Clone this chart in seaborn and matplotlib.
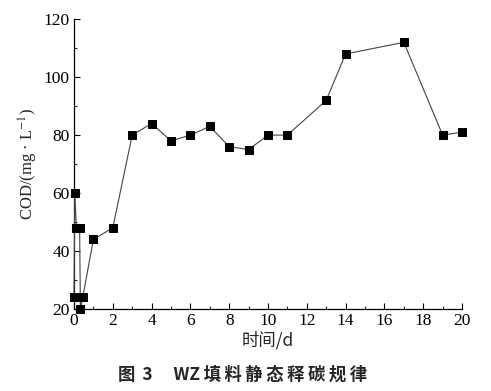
import matplotlib
matplotlib.use("Agg")
import matplotlib.pyplot as plt
import seaborn as sns
import pandas as pd
from matplotlib.ticker import MultipleLocator

days = [0, 0.04, 0.125, 0.29, 0.33, 0.45, 1, 2, 3, 4, 5, 6, 7, 8, 9, 10, 11, 13, 14, 17, 19, 20]
cod = [24, 60, 48, 48, 20, 24, 44, 48, 80, 84, 78, 80, 83, 76, 75, 80, 80, 92, 108, 112, 80, 81]
xticks = [0, 2, 4, 6, 8, 10, 12, 14, 16, 18, 20]
yticks = [20, 40, 60, 80, 100, 120]

sns.set_style("ticks")
plt.rcParams['font.family'] = ['Liberation Serif', 'Noto Sans CJK SC']
plt.rcParams['mathtext.fontset'] = 'stix'

df = pd.DataFrame({"day": days, "cod": cod})

fig = plt.figure(figsize=(4.91, 3.91), dpi=100)
ax = fig.add_axes([0.1507, 0.2097, 0.7903, 0.7413])
sns.lineplot(data=df, x="day", y="cod", ax=ax, color="#444444", linewidth=0.8,
             marker="s", markersize=6, markerfacecolor="black", markeredgecolor="black",
             sort=False, estimator=None, clip_on=False, zorder=3)

ax.set_xlim(0, 20)
ax.set_ylim(20, 120)
ax.set_xticks(xticks)
ax.set_yticks(yticks)
ax.xaxis.set_minor_locator(MultipleLocator(1))
ax.yaxis.set_minor_locator(MultipleLocator(10))
ax.tick_params(axis='both', which='major', direction='in', length=4, width=0.8, labelsize=12.5, colors='black', pad=3)
ax.tick_params(axis='both', which='minor', direction='in', length=2, width=0.8)
for s in ['top', 'right']:
    ax.spines[s].set_visible(False)
for s in ['left', 'bottom']:
    ax.spines[s].set_linewidth(0.9)
    ax.spines[s].set_color('black')

ax.set_xlabel("时间/d", fontsize=12.5, family=['Noto Sans CJK SC', 'Liberation Serif'], labelpad=1)
ax.set_ylabel(r"COD/(mg · L$^{-1}$)", fontsize=12, labelpad=3)

ts = "\u2009"
caption = "图" + ts + ts + "3" + "\u3000" + ts + "WZ" + ts + ts.join("填料静态释碳规律")
fig.text(0.493, 0.041, caption, ha='center', va='center', fontsize=12.5,
         fontweight='bold', family=['Noto Sans CJK SC', 'DejaVu Sans'])

fig.savefig("out.png", dpi=100)
